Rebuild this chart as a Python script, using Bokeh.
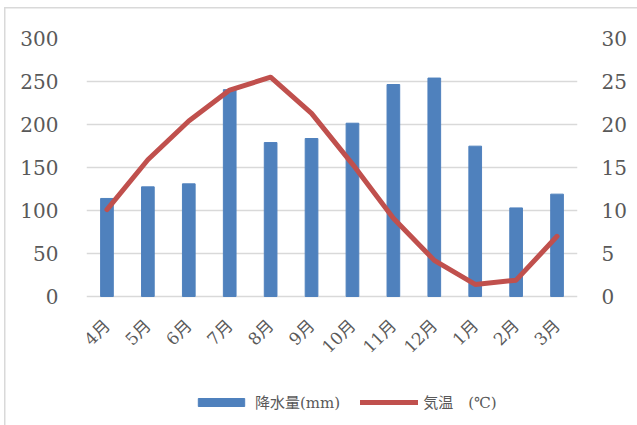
from bokeh.plotting import figure
from bokeh.models import Range1d, LinearAxis, Legend, LegendItem, FixedTicker
from bokeh.embed import file_html
from bokeh.resources import INLINE
import math

months = ["4月", "5月", "6月", "7月", "8月", "9月", "10月", "11月", "12月", "1月", "2月", "3月"]
precip = [114, 127.5, 131, 240.5, 179, 183.7, 201.5, 246.5, 254, 174.8, 103, 119]
temp = [10.1, 15.9, 20.4, 24.0, 25.5, 21.3, 15.4, 9.1, 4.2, 1.4, 1.9, 7.0]
left_ticks = [0, 50, 100, 150, 200, 250, 300]
right_ticks = [0, 5, 10, 15, 20, 25, 30]

FONT = "'DejaVu Serif', 'Noto Sans CJK JP'"
GRAY = "#595959"

# frame: top 38, zero line 296, bottom 420 -> extend ranges below zero for label/legend room
P_LOW = -144.2
T_LOW = -14.42

frame_css = {
    "background-color": "white",
    "background-image": "linear-gradient(#d9d9d9, #d9d9d9), linear-gradient(#d9d9d9, #d9d9d9)",
    "background-size": "1.5px 100%, 100% 1.5px",
    "background-position": "4px 7px, 4px 7px",
    "background-repeat": "no-repeat",
}

p = figure(width=637, height=425, x_range=months, y_range=Range1d(P_LOW, 300),
           output_backend="svg", toolbar_location=None,
           min_border_left=86, min_border_right=60, min_border_top=38, min_border_bottom=5,
           styles=frame_css)
p.extra_y_ranges = {"temp": Range1d(T_LOW, 30)}
p.outline_line_color = None
p.background_fill_alpha = 0
p.border_fill_alpha = 0

p.xgrid.grid_line_color = None
p.ygrid.ticker = FixedTicker(ticks=left_ticks)
p.ygrid.grid_line_color = "#d9d9d9"
p.ygrid.grid_line_width = 1.5

bars = p.vbar(x=months, top=precip, bottom=0, width=0.31, color="#4f81bd")
line = p.line(x=months, y=temp, y_range_name="temp", line_color="#c0504d",
              line_width=5, line_join="round", line_cap="round")

# left axis
ya = p.yaxis[0]
ya.ticker = FixedTicker(ticks=left_ticks)
ya.axis_line_color = None
ya.major_tick_line_color = None
ya.minor_tick_line_color = None
ya.major_label_text_font = FONT
ya.major_label_text_font_size = "20px"
ya.major_label_text_color = GRAY
ya.major_label_standoff = 22

ra = LinearAxis(y_range_name="temp", ticker=FixedTicker(ticks=right_ticks))
ra.axis_line_color = None
ra.major_tick_line_color = None
ra.minor_tick_line_color = None
ra.major_label_text_font = FONT
ra.major_label_text_font_size = "20px"
ra.major_label_text_color = GRAY
ra.major_label_standoff = 18
p.add_layout(ra, "right")

xa = p.xaxis[0]
xa.fixed_location = 0
xa.axis_line_color = None
xa.major_tick_line_color = None
xa.minor_tick_line_color = None
xa.major_label_orientation = math.pi / 4
xa.major_label_text_font = FONT
xa.major_label_text_font_size = "17px"
xa.major_label_text_color = GRAY
xa.major_label_standoff = 20

legend = Legend(items=[LegendItem(label="降水量(mm)", renderers=[bars]),
                       LegendItem(label="気温　(℃)", renderers=[line])],
                orientation="horizontal", location=(106, 8),
                glyph_width=58, glyph_height=10, label_standoff=5, spacing=20,
                label_text_font=FONT, label_text_font_size="15px",
                label_text_color=GRAY, border_line_color=None,
                background_fill_alpha=0, margin=0, padding=0)
p.add_layout(legend, "center")

open("out.html", "w").write(file_html(p, INLINE))
